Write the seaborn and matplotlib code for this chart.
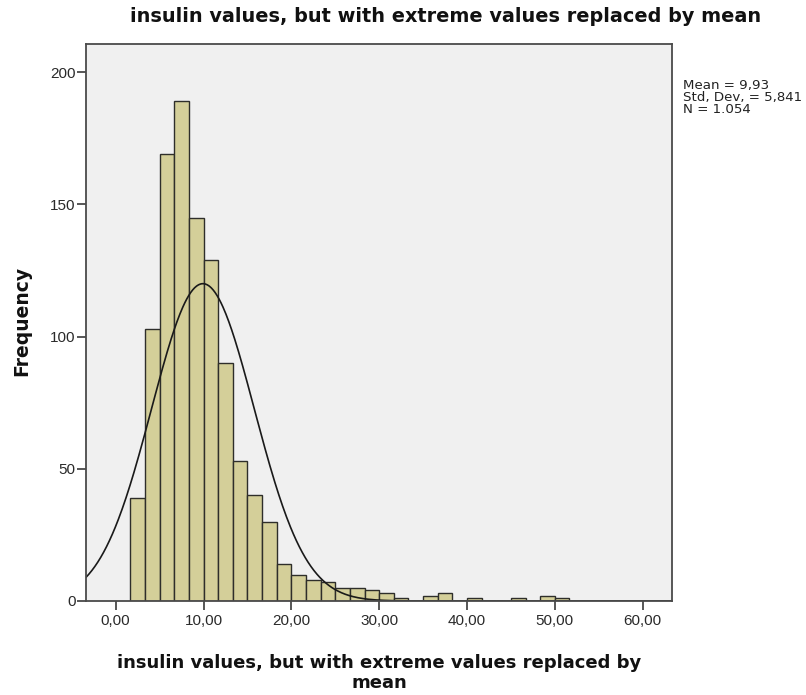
import numpy as np
import pandas as pd
import seaborn as sns
import matplotlib
matplotlib.use("Agg")
import matplotlib.pyplot as plt
from matplotlib.ticker import FuncFormatter

# Histogram bins (width 5/3) and the count in each bin
bin_width = 5.0 / 3.0
bin_start = 5.0 / 3.0
counts = [39, 103, 169, 189, 145, 129, 90, 53, 40, 30,
          14, 10, 8, 7, 5, 5, 4, 3, 1, 0,
          2, 3, 0, 1, 0, 0, 1, 0, 2, 1]

# Summary statistics shown beside the plot
mean_val = 9.93
std_val = 5.841
n_total = 1054

x_ticks = [0, 10, 20, 30, 40, 50, 60]
y_ticks = [0, 50, 100, 150, 200]

title = "insulin values, but with extreme values replaced by mean"
x_label_lines = ["insulin values, but with extreme values replaced by", "mean"]
y_label = "Frequency"

sns.set_theme(style="white")
plt.rcParams["font.family"] = ["Liberation Sans", "DejaVu Sans"]

W, H = 806, 695
n_bins = len(counts)
centers = bin_start + bin_width * (np.arange(n_bins) + 0.5)
df = pd.DataFrame({"value": centers, "count": counts})

fig = plt.figure(figsize=(W / 100, H / 100), dpi=100)
ax = fig.add_axes([86 / W, 1 - 601 / H, (672 - 86) / W, (601 - 44) / H])
ax.set_facecolor("#F0F0F0")

sns.histplot(data=df, x="value", weights="count",
             binwidth=bin_width, binrange=(bin_start, bin_start + bin_width * n_bins),
             ax=ax, color="#D4CF99", edgecolor="#2E2E2A", linewidth=1.0, alpha=1.0)

# Normal curve scaled to the histogram
x_lo, x_hi = -3.38, 63.34
xs = np.linspace(x_lo, x_hi, 600)
ys = n_total * bin_width * np.exp(-0.5 * ((xs - mean_val) / std_val) ** 2) / (std_val * np.sqrt(2 * np.pi))
sns.lineplot(x=xs, y=ys, ax=ax, color="#1A1A1A", linewidth=1.2)

ax.set_xlim(x_lo, x_hi)
ax.set_ylim(0, 210.6)
ax.set_xticks(x_ticks)
ax.set_yticks(y_ticks)
ax.xaxis.set_major_formatter(FuncFormatter(lambda v, p: f"{v:.2f}".replace(".", ",")))
ax.tick_params(axis="both", which="major", direction="out", length=6.5, width=1.2,
               color="#3A3A3A", labelsize=11, labelcolor="#2A2A2A", pad=1,
               bottom=True, left=True)
ax.tick_params(axis="x", pad=3)
for sp in ax.spines.values():
    sp.set_color("#4A4A4A")
    sp.set_linewidth(1.3)

ax.set_xlabel("")
ax.set_ylabel("")

bold = dict(family="DejaVu Sans", fontweight="bold", color="#111111")
fig.text(379.5 / W, 1 - 668 / H, x_label_lines[0], ha="center", va="baseline",
         fontsize=13.0, **bold)
fig.text(379.5 / W, 1 - 688 / H, x_label_lines[1], ha="center", va="baseline",
         fontsize=13.0, **bold)
fig.text(22 / W, 1 - 321 / H, y_label, ha="center", va="center",
         rotation=90, fontsize=13.5, **bold)
fig.text(445.5 / W, 1 - 22 / H, title, ha="center", va="baseline",
         fontsize=13.85, **bold)

stats = "\n".join([f"Mean = {mean_val:.2f}".replace(".", ","),
                   f"Std. Dev. = {std_val:.3f}".replace(".", ","),
                   f"N = {n_total:,}".replace(",", ".")])
fig.text(683 / W, 1 - 79 / H, stats, ha="left", va="top", linespacing=0.88,
         family="DejaVu Sans", fontsize=9.6, color="#222222")

fig.savefig("out.png", dpi=100)
